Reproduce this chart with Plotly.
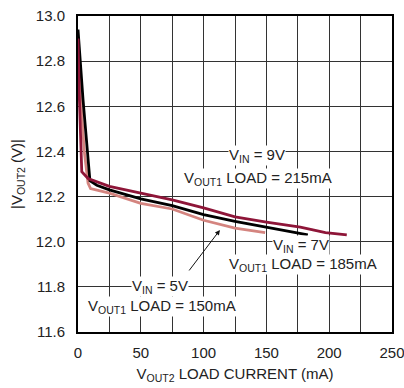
import plotly.graph_objects as go

# data
load_5v = [0, 2, 5, 8, 10, 25, 50, 75, 100, 125, 149]
vout_5v = [12.90, 12.65, 12.40, 12.26, 12.235, 12.215, 12.17, 12.145, 12.095, 12.06, 12.04]
load_7v = [0, 4, 9.5, 15, 25, 50, 75, 100, 125, 150, 183]
vout_7v = [12.94, 12.63, 12.27, 12.25, 12.23, 12.19, 12.16, 12.12, 12.09, 12.065, 12.03]
load_9v = [0, 1, 3, 8, 25, 50, 75, 100, 125, 150, 177, 197, 205, 214]
vout_9v = [12.90, 12.65, 12.31, 12.28, 12.245, 12.215, 12.185, 12.15, 12.11, 12.087, 12.065, 12.04, 12.035, 12.03]
x_grid = [0, 25, 50, 75, 100, 125, 150, 175, 200, 225, 250]
x_tick_labels = ["0", "", "50", "", "100", "", "150", "", "200", "", "250"]
y_ticks = [11.6, 11.8, 12.0, 12.2, 12.4, 12.6, 12.8, 13.0]

FONT = "Liberation Sans Narrow, Arial Narrow, Liberation Sans, sans-serif"
RED = "#8e1538"
PINK = "#d4847f"
BLACK = "#000000"

fig = go.Figure()
fig.add_trace(go.Scatter(x=load_5v, y=vout_5v, mode="lines", line=dict(color=PINK, width=2.8)))
fig.add_trace(go.Scatter(x=load_7v, y=vout_7v, mode="lines", line=dict(color=BLACK, width=2.8)))
fig.add_trace(go.Scatter(x=load_9v, y=vout_9v, mode="lines", line=dict(color=RED, width=2.8)))

def label(x, y, text):
    fig.add_annotation(x=x, y=y, xref="x", yref="y", text=text, showarrow=False,
                       xanchor="left", yanchor="middle", bgcolor="white",
                       font=dict(family=FONT, size=15, color="#222"), borderpad=0)

sub = lambda s: f"<sub>{s}</sub>"
# VIN = 9V
label(119.5, 12.38, f"V{sub('IN')} = 9V")
label(83.5, 12.282, f"V{sub('OUT1')} LOAD = 215mA")
# VIN = 7V
label(154.5, 11.985, f"V{sub('IN')} = 7V")
label(119.5, 11.9, f"V{sub('OUT1')} LOAD = 185mA")
# VIN = 5V
label(42, 11.8, f"V{sub('IN')} = 5V")
label(7, 11.715, f"V{sub('OUT1')} LOAD = 150mA")

fig.add_annotation(x=113, y=12.052, ax=87.6, ay=11.866, xref="x", yref="y", axref="x", ayref="y",
                   showarrow=True, arrowhead=2, arrowsize=1, arrowwidth=1, arrowcolor="#111", text="")

fig.update_layout(
    width=404, height=388,
    margin=dict(l=78, r=12, t=16, b=56, autoexpand=False),
    paper_bgcolor="white", plot_bgcolor="white",
    showlegend=False,
    font=dict(family=FONT, size=15, color="#222"),
    xaxis=dict(range=[0, 250], tickmode="array", tickvals=x_grid, ticktext=x_tick_labels, ticks="",
               showgrid=True, automargin=False, ticklabeloverflow="allow",
               gridcolor="#333", gridwidth=1, showline=True, linecolor="black", linewidth=2,
               mirror=True, zeroline=False, ticklabelstandoff=6,
               title=dict(text=f"V{sub('OUT2')} LOAD CURRENT (mA)", standoff=8,
                          font=dict(family=FONT, size=15))),
    yaxis=dict(range=[11.6, 13.0], tickmode="array", tickvals=y_ticks,
               ticktext=[f"{v:.1f}" for v in y_ticks], automargin=False, ticklabeloverflow="allow",
               ticks="", showgrid=True, gridcolor="#333", gridwidth=1, showline=True,
               linecolor="black", linewidth=2, mirror=True, zeroline=False, ticklabelstandoff=8,
               title=dict(text=f"|V{sub('OUT2')} (V)|", standoff=10, font=dict(family=FONT, size=15))),
)
fig.write_html("out.html", config={"displayModeBar": False},
               post_script="document.body.style.margin='0';document.body.style.overflow='hidden';")
